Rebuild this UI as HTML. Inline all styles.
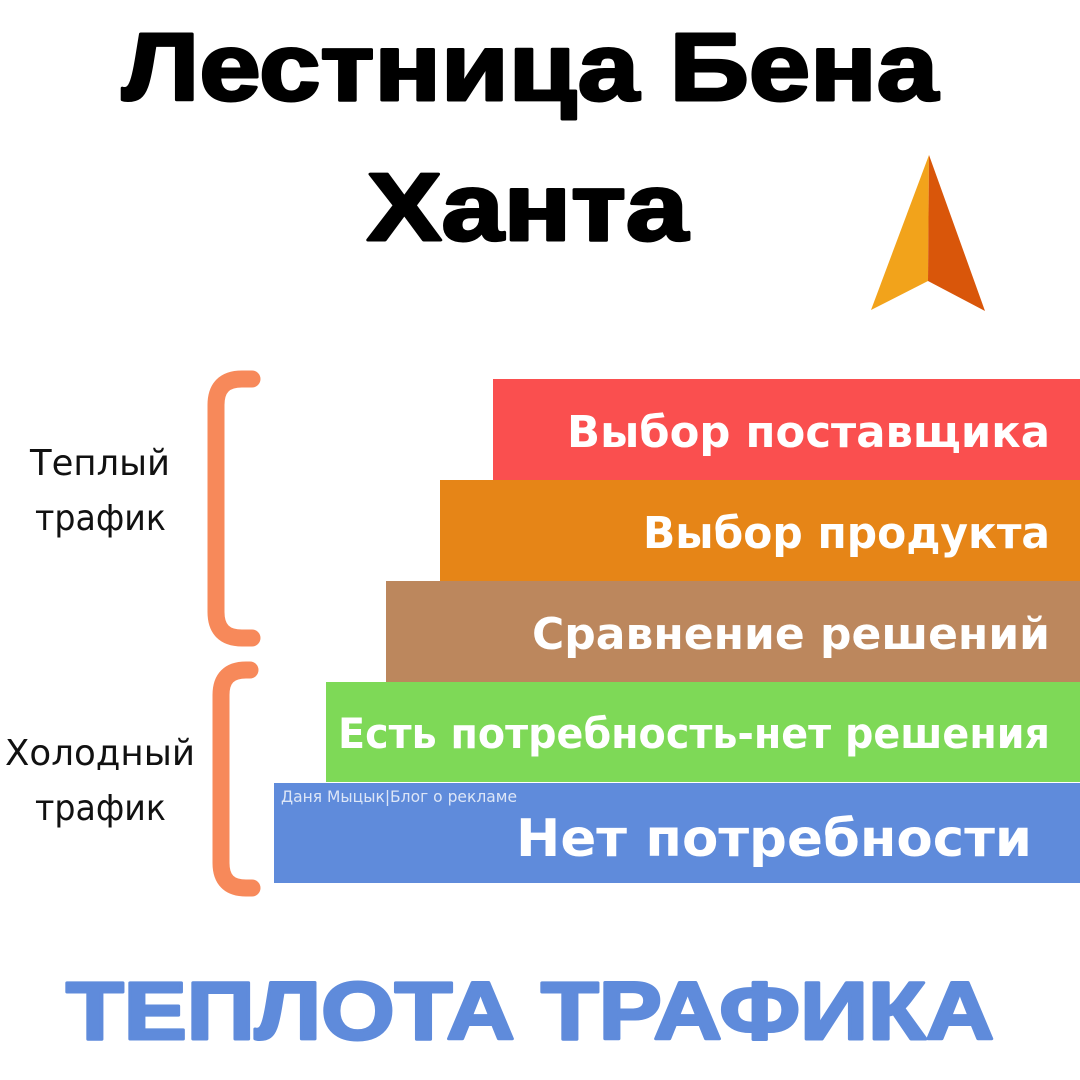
<!DOCTYPE html>
<html><head><meta charset="utf-8"><style>
html,body{margin:0;padding:0;background:#fff;}
svg{display:block}
</style></head><body>
<svg width="1080" height="1080" viewBox="0 0 1080 1080" xmlns="http://www.w3.org/2000/svg">
<g font-family="Liberation Sans, DejaVu Sans, sans-serif" font-weight="bold" stroke="#000" stroke-width="3" stroke-linejoin="round">
<text x="122" y="100" font-size="96" textLength="816" lengthAdjust="spacingAndGlyphs" fill="#000">Лестница Бена</text>
<text x="367" y="240" font-size="96" textLength="321" lengthAdjust="spacingAndGlyphs" fill="#000">Ханта</text>
</g>
<polygon points="929,155 871,310 928,281" fill="#F2A31B"/>
<polygon points="929,155 928,281 985,311" fill="#D9560A"/>
<rect x="493" y="379" width="587" height="101" fill="#FA4F4F"/>
<rect x="440" y="480" width="640" height="101" fill="#E68517"/>
<rect x="386" y="581" width="694" height="101" fill="#BC875D"/>
<rect x="326" y="682" width="754" height="100" fill="#7ED957"/>
<rect x="274" y="783" width="806" height="100" fill="#5F8BDB"/>
<g fill="none" stroke="#F7895A" stroke-width="17" stroke-linecap="round">
<path d="M252,379 H242 Q216,379 216,405 V612 Q216,638 242,638 H252"/>
<path d="M250,670 H246 Q221,670 221,695 V863 Q221,888 246,888 H252"/>
</g>
<g font-family="DejaVu Sans, Liberation Sans, sans-serif" font-weight="bold" fill="#fff">
<text x="567" y="447" font-size="44" textLength="483" lengthAdjust="spacingAndGlyphs">Выбор поставщика</text>
<text x="643" y="548" font-size="44" textLength="407" lengthAdjust="spacingAndGlyphs">Выбор продукта</text>
<text x="532" y="649" font-size="44" textLength="518" lengthAdjust="spacingAndGlyphs">Сравнение решений</text>
<text x="338" y="748" font-size="42" textLength="712" lengthAdjust="spacingAndGlyphs">Есть потребность-нет решения</text>
<text x="516" y="856" font-size="52" textLength="516" lengthAdjust="spacingAndGlyphs">Нет потребности</text>
</g>
<text x="281" y="802" font-family="DejaVu Sans, sans-serif" font-size="16" fill="#dde6f7" textLength="236" lengthAdjust="spacingAndGlyphs">Даня Мыцык|Блог о рекламе</text>
<g font-family="DejaVu Sans, Liberation Sans, sans-serif" font-weight="normal" fill="#111" font-size="36">
<text x="30" y="475" textLength="140" lengthAdjust="spacingAndGlyphs">Теплый</text>
<text x="35" y="530" textLength="131" lengthAdjust="spacingAndGlyphs">трафик</text>
<text x="5" y="765" textLength="190" lengthAdjust="spacingAndGlyphs">Холодный</text>
<text x="35" y="820" textLength="131" lengthAdjust="spacingAndGlyphs">трафик</text>
</g>
<text x="66" y="1039" font-family="Liberation Sans, DejaVu Sans, sans-serif" font-weight="bold" font-size="82" fill="#5F8BDB" stroke="#5F8BDB" stroke-width="3" stroke-linejoin="round" textLength="928" lengthAdjust="spacingAndGlyphs">ТЕПЛОТА ТРАФИКА</text>
</svg>
</body></html>
